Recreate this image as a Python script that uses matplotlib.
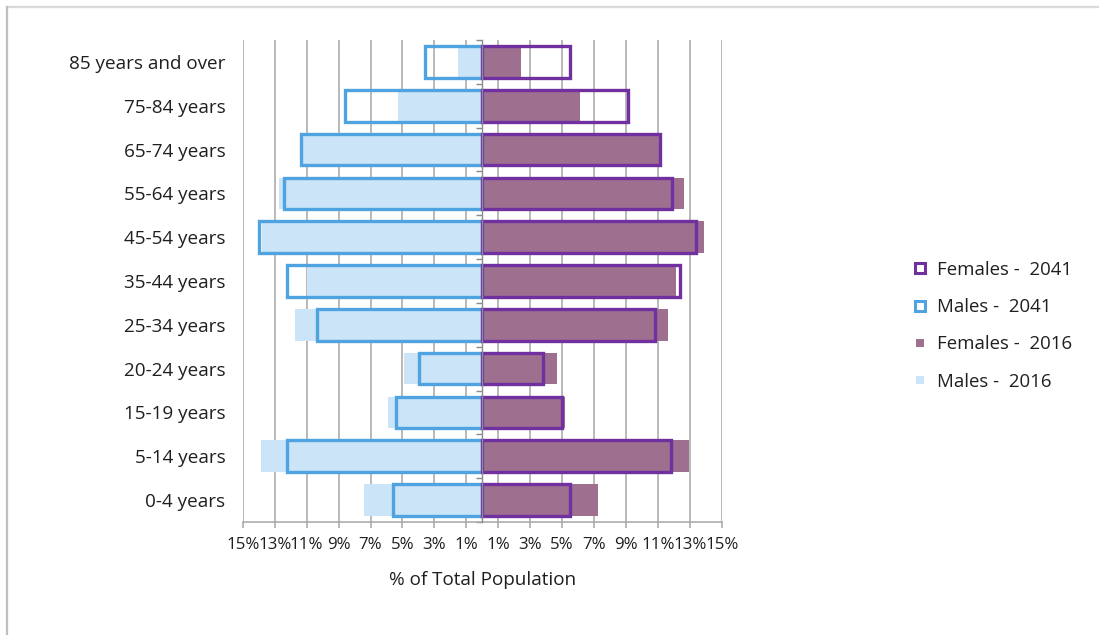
import numpy as np
import matplotlib
matplotlib.use("Agg")
import matplotlib.pyplot as plt
from matplotlib.lines import Line2D

# Age groups, top to bottom
age_groups = ["85 years and over", "75-84 years", "65-74 years", "55-64 years",
              "45-54 years", "35-44 years", "25-34 years", "20-24 years",
              "15-19 years", "5-14 years", "0-4 years"]

# Share of total population (%)
males_2016 = [1.5, 5.25, 11.2, 12.75, 13.8, 10.95, 11.7, 4.9, 5.9, 13.85, 7.4]
males_2041 = [3.6, 8.6, 11.35, 12.4, 13.95, 12.2, 10.35, 3.95, 5.4, 12.25, 5.6]
females_2016 = [2.4, 6.1, 11.1, 12.6, 13.9, 12.1, 11.6, 4.7, 5.2, 12.95, 7.25]
females_2041 = [5.5, 9.1, 11.15, 11.85, 13.35, 12.4, 10.8, 3.8, 5.0, 11.8, 5.5]

x_ticks = list(range(-15, 16, 2))

C_M16 = "#cce4f7"
C_F16 = "#9e6f8f"
C_M41 = "#4fa3e0"
C_F41 = "#7030a0"
GRID = "#a6a6a6"
TXT = "#1f1f1f"

plt.rcParams["font.family"] = ["Open Sans", "DejaVu Sans"]

fig = plt.figure(figsize=(10.99, 6.35), dpi=100)
ax = fig.add_axes([242.7 / 1099, 1 - 522 / 635, (722 - 242.7) / 1099, (522 - 40) / 635])

y = np.arange(len(age_groups))
h = 0.72

# 2016 shares as solid bars
ax.barh(y, -np.array(males_2016), height=h, color=C_M16, zorder=2, linewidth=0)
ax.barh(y, females_2016, height=h, color=C_F16, zorder=2, linewidth=0)

# 2041 projections as hollow outlines
ax.barh(y, -np.array(males_2041), height=h, facecolor="none", edgecolor=C_M41,
        linewidth=2.4, zorder=3, joinstyle="miter")
ax.barh(y, females_2041, height=h, facecolor="none", edgecolor=C_F41,
        linewidth=2.4, zorder=3, joinstyle="miter")

ax.set_xlim(-15, 15)
ax.set_ylim(len(age_groups) - 0.5, -0.5)

# vertical category axis through zero, with ticks between groups
ax.spines["right"].set_position(("data", 0))
ax.spines["right"].set_color("#8c8c8c")
ax.spines["right"].set_linewidth(1.0)
ax.spines["right"].set_zorder(4)

ax.set_xticks(x_ticks)
ax.set_xticklabels([f"{abs(v)}%" for v in x_ticks])
ax.grid(axis="x", color=GRID, linewidth=1.1, zorder=0)
ax.set_axisbelow(True)

# category labels on the left, no tick marks
ax.set_yticks(y)
ax.set_yticklabels(age_groups)
ax.set_yticks(np.arange(-0.5, len(age_groups), 1.0), minor=True)
ax.tick_params(axis="y", which="major", length=0, pad=12.5,
               labelsize=13.6, labelcolor=TXT, left=True, right=False)
ax.tick_params(axis="y", which="minor", left=False, right=True, direction="in",
               length=4, color="#8c8c8c", width=1.0)

ax.spines["top"].set_visible(False)
ax.spines["left"].set_visible(False)
ax.spines["bottom"].set_color(GRID)
ax.spines["bottom"].set_linewidth(1.1)
ax.tick_params(axis="x", which="major", length=4, color=GRID, width=1.1, pad=6.5,
               labelsize=12.2, labelcolor=TXT)

ax.set_xlabel("% of Total Population", fontsize=13.6, color=TXT, labelpad=13)

handles = [
    Line2D([], [], linestyle="none", marker="s", markersize=7.5,
           markerfacecolor="white", markeredgecolor=C_F41, markeredgewidth=2.2),
    Line2D([], [], linestyle="none", marker="s", markersize=7.5,
           markerfacecolor="white", markeredgecolor=C_M41, markeredgewidth=2.2),
    Line2D([], [], linestyle="none", marker="s", markersize=5.5,
           markerfacecolor=C_F16, markeredgecolor=C_F16, markeredgewidth=0),
    Line2D([], [], linestyle="none", marker="s", markersize=5.5,
           markerfacecolor=C_M16, markeredgecolor=C_M16, markeredgewidth=0),
]
labels = ["Females -  2041", "Males -  2041", "Females -  2016", "Males -  2016"]
leg = fig.legend(handles, labels, loc="upper left",
                 bbox_to_anchor=(913 / 1099, 1 - 261 / 635),
                 frameon=False, fontsize=13.4, handlelength=0.75,
                 handletextpad=0.55, labelspacing=1.03, borderpad=0,
                 borderaxespad=0)
for t in leg.get_texts():
    t.set_color(TXT)

# chart frame lines (top and left)
fig.add_artist(Line2D([7 / 1099, 1], [1 - 7 / 635, 1 - 7 / 635],
                      transform=fig.transFigure, color="#d9d9d9", linewidth=1.6))
fig.add_artist(Line2D([7 / 1099, 7 / 1099], [0, 1 - 7 / 635],
                      transform=fig.transFigure, color="#bfbfbf", linewidth=1.6))

fig.savefig("out.png", dpi=100)
